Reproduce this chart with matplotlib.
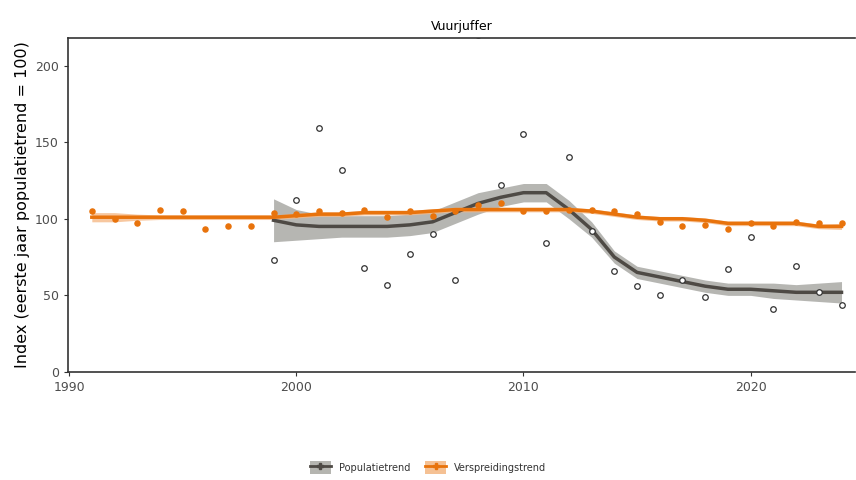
import numpy as np
import matplotlib.pyplot as plt
from matplotlib.patches import Patch
from matplotlib.lines import Line2D

# population index (open circles) and its trend
pop_years = np.arange(1999, 2025)
pop_obs = [73, 112, 159, 132, 68, 57, 77, 90, 60, 220, 122, 155, 84, 140,
           92, 66, 56, 50, 60, 49, 67, 88, 41, 69, 52, 44]
pop_trend = [99, 96, 95, 95, 95, 95, 96, 98, 104, 110, 114, 117, 117, 106,
             93, 75, 65, 62, 59, 56, 54, 54, 53, 52, 52, 52]
pop_ci = [14, 10, 8, 7, 7, 7, 7, 7, 7, 7, 6, 6, 6, 6,
          5, 4, 4, 4, 4, 4, 4, 4, 5, 5, 6, 7]

# distribution index (orange dots) and its trend
dist_years = np.arange(1991, 2025)
dist_obs = [105, 100, 97, 106, 105, 93, 95, 95, 104, 103, 105, 104, 106, 101,
            105, 102, 105, 109, 110, 105, 105, 106, 106, 105, 103, 98, 95, 96,
            93, 97, 95, 98, 97, 97]
dist_trend = [101, 101, 101, 101, 101, 101, 101, 101, 101, 102, 103, 103, 104, 104,
              104, 105, 106, 106, 106, 106, 106, 106, 105, 103, 101, 100, 100, 99,
              97, 97, 97, 97, 95, 95]
dist_ci = [3, 3, 2, 1.5, 1.5, 1.5, 1.5, 1.5, 1.5, 1.5, 1.5, 1.5, 1.5, 1.5, 1.5, 1.5,
           1.5, 1.5, 1.5, 1.5, 1.5, 1.5, 1.5, 1.5, 1.5, 1.5, 1.5, 1.5, 1.5, 1.5,
           1.5, 1.5, 1.5, 2]

orange = '#E8730C'
dark = '#4E4A45'
band = '#A9A9A5'

fig = plt.figure(figsize=(8.56, 4.8), dpi=100)
ax = fig.add_axes([0.0794, 0.225, 0.9196, 0.696])

pt = np.array(pop_trend)
pc = np.array(pop_ci)
ax.fill_between(pop_years, pt - pc, pt + pc, color=band, alpha=0.85, lw=0, zorder=1)
ax.plot(pop_years, pt, color=dark, lw=2.5, zorder=3)

dt = np.array(dist_trend)
dc = np.array(dist_ci)
ax.fill_between(dist_years, dt - dc, dt + dc, color='#F5B987', alpha=0.8, lw=0, zorder=2)
ax.plot(dist_years, dt, color=orange, lw=2.5, zorder=4)

ax.scatter(dist_years, dist_obs, s=22, color=orange, zorder=5, lw=0)
ax.scatter(pop_years, pop_obs, s=16, facecolors='white', edgecolors='#333333',
           lw=0.9, zorder=6)

ax.set_xlim(1989.95, 2024.6)
ax.set_ylim(0, 218)
ax.set_xticks([1990, 2000, 2010, 2020])
ax.set_yticks([0, 50, 100, 150, 200])
ax.tick_params(labelsize=9, labelcolor='#4D4D4D', length=3, color='#333333')
for s in ['left', 'bottom', 'top', 'right']:
    ax.spines[s].set_color('#333333')
ax.spines['right'].set_visible(False)
ax.spines['left'].set_linewidth(1.2)
ax.spines['bottom'].set_linewidth(1.2)
ax.spines['top'].set_linewidth(1.2)

ax.set_ylabel('Index (eerste jaar populatietrend = 100)', fontsize=11.5)
ax.set_title('Vuurjuffer', fontsize=9, pad=6)

h1 = (Patch(color='#B5B5B0', lw=0),
      Line2D([], [], color=dark, lw=2, marker='P', markersize=4))
h2 = (Patch(color='#F5C194', lw=0),
      Line2D([], [], color=orange, lw=2, marker='P', markersize=4))
fig.legend([h1, h2], ['Populatietrend', 'Verspreidingstrend'], loc='lower center',
           bbox_to_anchor=(0.5, -0.005), ncol=2, frameon=False, fontsize=7,
           handlelength=2.2, handleheight=1.6, columnspacing=1.5,
           labelcolor='#333333')

fig.savefig('out.png', dpi=100)
